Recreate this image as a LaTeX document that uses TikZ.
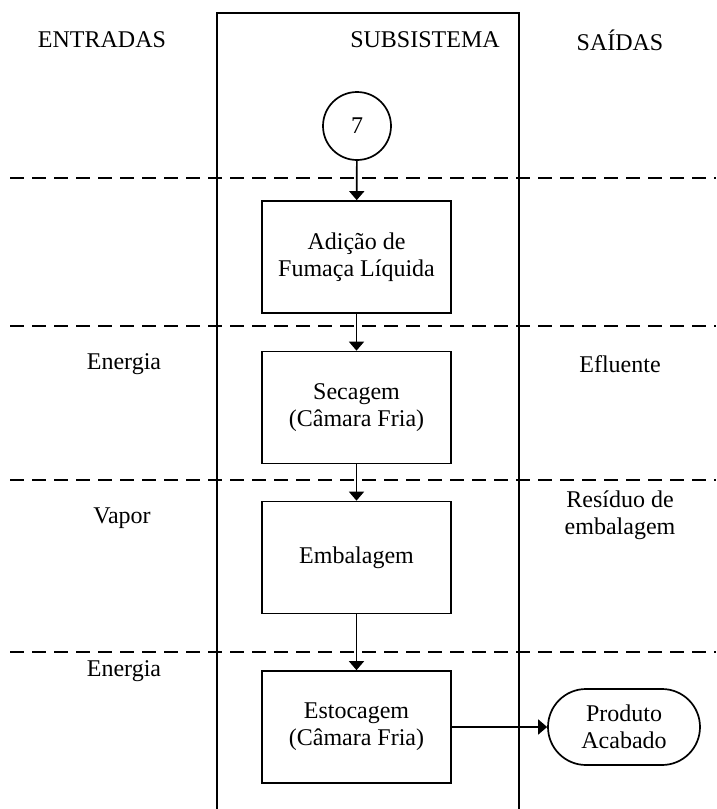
\documentclass[tikz,border=0pt]{standalone}
\usepackage{fontspec}
\setmainfont{Liberation Serif}
\usetikzlibrary{arrows.meta}
\begin{document}
\begin{tikzpicture}[x=1pt,y=-1pt,
  line width=1.7pt,
  every node/.style={font=\fontsize{24}{27}\selectfont, align=center},
  stepbox/.style={draw, minimum width=189pt, minimum height=112pt, inner sep=0pt},
  termbox/.style={draw, rounded corners=38pt, minimum width=152pt, minimum height=76pt, inner sep=0pt},
  conn/.style={draw, line width=1.7pt, -{Triangle[width=15pt,length=9pt]}},
  sep/.style={line width=1.7pt, dash pattern=on 14pt off 8pt},
  lbl/.style={inner sep=0pt}]
\useasboundingbox (0,0) rectangle (716,809);

% subsystem column
\draw (217,809) -- (217,13) -- (519,13) -- (519,809);

% stage separators
\draw[sep] (10,178) -- (716,178);
\draw[sep] (10,326) -- (716,326);
\draw[sep] (10,480) -- (716,480);
\draw[sep] (10,652) -- (716,652);

% column headings
\node[lbl] (hin) at (102,40) {ENTRADAS};
\node[lbl] (hsub) at (425,40) {SUBSISTEMA};
\node[lbl] (hout) at (620,40) {SAÍDAS};

% process chain
\node[draw, circle, minimum size=68pt, inner sep=0pt] (c7) at (357,126) {7};
\node[stepbox] (s1) at (356.5,257) {Adição de\\Fumaça Líquida};
\node[stepbox] (s2) at (356.5,407.5) {Secagem\\(Câmara Fria)};
\node[stepbox] (s3) at (356.5,557.5) {Embalagem};
\node[stepbox] (s4) at (356.5,727) {Estocagem\\(Câmara Fria)};
\node[termbox] (prod) at (624,727) {Produto\\Acabado};

\draw[conn] (c7) -- (s1);
\draw[conn] (s1) -- (s2);
\draw[conn] (s2) -- (s3);
\draw[conn] (s3) -- (s4);
\draw[conn] (s4) -- (prod);

% inputs and outputs
\node[lbl] (in1) at (124,364) {Energia};
\node[lbl] (out1) at (620,364) {Efluente};
\node[lbl] (in2) at (122,518) {Vapor};
\node[lbl] (out2) at (620,515) {Resíduo de\\embalagem};
\node[lbl] (in3) at (124,671) {Energia};
\end{tikzpicture}
\end{document}
